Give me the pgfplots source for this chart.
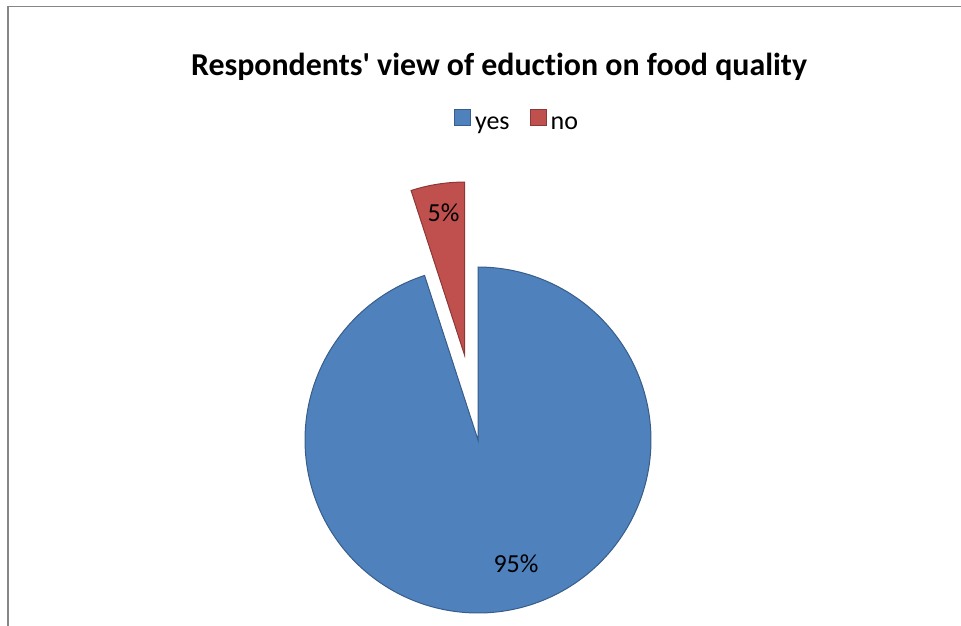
\documentclass[border=0pt]{standalone}
\usepackage{pgfplots}
\usepackage{pgfplotstable}
\usepackage{fontspec}
\setmainfont{Carlito}[Ligatures={TeXOff,NoCommon}]
\pgfplotsset{compat=1.18}
\definecolor{yesfill}{HTML}{4F81BD}
\definecolor{yesedge}{HTML}{385D8A}
\definecolor{nofill}{HTML}{C0504D}
\definecolor{noedge}{HTML}{8C3836}
\definecolor{frame}{HTML}{868686}
\pgfplotstableread{
label value
yes 95
no 5
}\piedata
\pgfplotstablegetelem{0}{value}\of\piedata\let\yesv\pgfplotsretval%
\pgfplotstablegetelem{1}{value}\of\piedata\let\nov\pgfplotsretval%
\pgfmathsetmacro\yesend{90-3.6*\yesv}%
\pgfmathsetmacro\noend{90+3.6*\nov}%
\pgfmathsetmacro\nomid{90+1.8*\nov}%
\pgfmathsetmacro\nocx{478+86*cos(\nomid)}%
\pgfmathsetmacro\nocy{185+86*sin(\nomid)}%
\begin{document}%
\begin{tikzpicture}
\begin{axis}[
  x=1pt, y=1pt,
  xmin=0, xmax=961, ymin=0, ymax=625,
  enlargelimits=false,
  hide axis,
  clip=false,
  legend columns=2,
  legend entries={yes,no},
  legend style={at={(0.538,0.806)}, anchor=center, draw=none, fill=none,
    font=\fontsize{26}{30}\selectfont,
    /tikz/every odd column/.append style={column sep=2pt},
    /tikz/every even column/.append style={column sep=18pt}},
  legend image code/.code={\draw[#1] (0pt,-1.5pt) rectangle (16pt,14.5pt);},
]
\addplot[fill=yesfill, draw=yesedge, line width=1pt, domain=\yesend:90, samples=200, variable=\t]
  ({478+173*cos(t)},{185+173*sin(t)}) -- (axis cs:478,185) -- cycle;
\addplot[fill=nofill, draw=noedge, line width=1pt, domain=90:\noend, samples=30, variable=\t]
  ({\nocx+173*cos(t)},{\nocy+173*sin(t)}) -- (axis cs:\nocx,\nocy) -- cycle;
\draw[frame, line width=1.8pt] (axis cs:7.7,-5) -- (axis cs:7.7,618.5) -- (axis cs:970,618.5);
\node[anchor=base, font=\bfseries\fontsize{31.9}{36}\selectfont] at (axis cs:499,549) {Respondents' view of eduction on food quality};
\node[anchor=base, font=\fontsize{26}{30}\selectfont] at (axis cs:443.5,403) {5\%};
\node[anchor=base, font=\fontsize{26}{30}\selectfont] at (axis cs:516,53) {95\%};
\end{axis}
\pgfresetboundingbox
\path[use as bounding box] (current axis.south west) rectangle (current axis.north east);
\end{tikzpicture}%
\end{document}
